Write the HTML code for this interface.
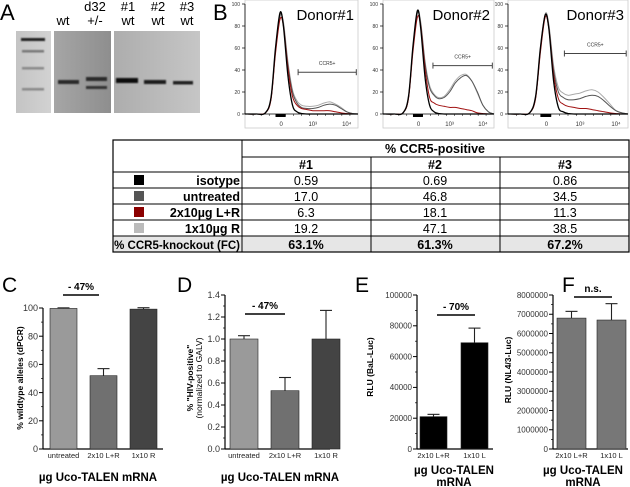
<!DOCTYPE html>
<html><head><meta charset="utf-8"><style>
html,body{margin:0;padding:0;background:#fff}
svg{display:block;font-family:"Liberation Sans",Arial,sans-serif}
</style></head><body>
<svg id="fig" width="630" height="487" viewBox="0 0 630 487" xmlns="http://www.w3.org/2000/svg">
<defs>
<filter id="bl" x="-20%" y="-100%" width="140%" height="300%"><feGaussianBlur stdDeviation="0.9"/></filter>
<linearGradient id="g1" x1="0" x2="1"><stop offset="0" stop-color="#c4c4c4"/><stop offset="1" stop-color="#d2d2d2"/></linearGradient>
<linearGradient id="g2" x1="0" x2="1"><stop offset="0" stop-color="#a6a6a6"/><stop offset="1" stop-color="#8e8e8e"/></linearGradient>
<linearGradient id="g3" x1="0" x2="1"><stop offset="0" stop-color="#adadad"/><stop offset="1" stop-color="#c6c6c6"/></linearGradient>
</defs>
<g>
<text x="0" y="20" font-size="22">A</text>
<g font-size="13" text-anchor="middle">
<text x="63" y="25">wt</text><text x="95" y="11">d32</text><text x="95" y="25">+/-</text>
<text x="128" y="11">#1</text><text x="128" y="25">wt</text>
<text x="158" y="11">#2</text><text x="158" y="25">wt</text>
<text x="187" y="11">#3</text><text x="187" y="25">wt</text>
</g>
<rect x="16" y="31" width="35" height="82" fill="url(#g1)"/>
<rect x="54" y="31" width="57" height="82" fill="url(#g2)"/>
<rect x="114" y="31" width="86" height="82" fill="url(#g3)"/>
<g filter="url(#bl)">
<rect x="21" y="38" width="24" height="3" fill="#222"/>
<rect x="22" y="50" width="22" height="2.5" fill="#777"/>
<rect x="22" y="67" width="22" height="2.5" fill="#888"/>
<rect x="22" y="88" width="22" height="2.5" fill="#888"/>
<rect x="58" y="80" width="21" height="4" fill="#2a2a2a"/>
<rect x="86" y="77" width="21" height="4" fill="#2a2a2a"/>
<rect x="86" y="86" width="21" height="3" fill="#333"/>
<rect x="116" y="78" width="22" height="5" fill="#111"/>
<rect x="144" y="80" width="22" height="4" fill="#1a1a1a"/>
<rect x="173" y="81" width="20" height="3.5" fill="#222"/>
</g>
</g>
<text x="213" y="20" font-size="22">B</text>
<g id="hist"></g>
<g font-size="12.5">
<rect x="113" y="236" width="516" height="16" fill="#e6e6e6"/>
<rect x="113" y="140" width="516" height="112" fill="none" stroke="#000" stroke-width="1.2"/>
<line x1="242" y1="140" x2="242" y2="252" stroke="#000"/>
<line x1="242" y1="157" x2="629" y2="157" stroke="#000"/>
<line x1="371" y1="157" x2="371" y2="252" stroke="#000"/>
<line x1="500" y1="157" x2="500" y2="252" stroke="#000"/>
<g stroke="#000"><line x1="113" y1="172" x2="629" y2="172"/><line x1="113" y1="188" x2="629" y2="188"/><line x1="113" y1="204" x2="629" y2="204"/><line x1="113" y1="220" x2="629" y2="220"/><line x1="113" y1="236" x2="629" y2="236"/></g>
<text x="435" y="153" text-anchor="middle" font-weight="bold">% CCR5-positive</text>
<g font-weight="bold" text-anchor="middle"><text x="306" y="169">#1</text><text x="435" y="169">#2</text><text x="565" y="169">#3</text></g>
<rect x="134" y="175" width="10" height="10" fill="#000"/>
<rect x="134" y="191" width="10" height="10" fill="#555"/>
<rect x="134" y="207" width="10" height="10" fill="#8b0000"/>
<rect x="134" y="223" width="10" height="10" fill="#bbb"/>
<g font-weight="bold" text-anchor="end"><text x="240" y="185">isotype</text><text x="240" y="201">untreated</text><text x="240" y="217">2x10µg L+R</text><text x="240" y="233">1x10µg R</text><text x="240" y="249" font-size="11.5">% CCR5-knockout (FC)</text></g>
<g text-anchor="middle">
<text x="306" y="185">0.59</text><text x="435" y="185">0.69</text><text x="565" y="185">0.86</text>
<text x="306" y="201">17.0</text><text x="435" y="201">46.8</text><text x="565" y="201">34.5</text>
<text x="306" y="217">6.3</text><text x="435" y="217">18.1</text><text x="565" y="217">11.3</text>
<text x="306" y="233">19.2</text><text x="435" y="233">47.1</text><text x="565" y="233">38.5</text>
<g font-weight="bold"><text x="306" y="249">63.1%</text><text x="435" y="249">61.3%</text><text x="565" y="249">67.2%</text></g>
</g>
</g>
<g id="bars"></g>
</svg>
<script>
const histX = [0,0.1,0.18,0.23,0.27,0.31,0.34,0.38,0.42,0.46,0.5,0.55,0.6,0.65,0.7,0.75,0.8,0.85,0.9,0.95,1];
const d1Iso = [0,0,1,15,60,92,80,35,8,2,0.5,0,0,0,0,0,0,0,0,0,0];
const d1Unt = [0,0,1,14,58,90,82,45,20,10,6,5,5,6,8,9,8,5,2,0.5,0];
const d1LR  = [0,0,1,13,55,86,80,42,16,8,5,4,3,3,3,3,2,1,0.5,0,0];
const d1R   = [0,0,1,14,57,88,84,48,22,12,8,7,7,8,10,11,9,6,2,0.5,0];
const d2Iso = [0,0,1,16,62,94,78,32,8,2,0.5,0,0,0,0,0,0,0,0,0,0];
const d2Unt = [0,0,1,15,60,92,82,45,24,17,14,15,20,28,33,35,30,20,8,2,0];
const d2LR  = [0,0,1,14,57,88,80,40,15,10,8,7,6,6,5,4,3,1,0.5,0,0];
const d2R   = [0,0,1,15,61,93,84,47,26,18,15,16,22,30,35,36,30,19,8,2,0];
const d3Iso = [0,0,1,16,60,90,78,30,6,2,0.5,0,0,0,0,0,0,0,0,0,0];
const d3Unt = [0,0,1,15,58,90,80,40,20,15,13,13,14,16,17,16,12,7,3,1,0];
const d3LR  = [0,0,1,14,56,88,78,36,14,9,7,6,5,5,4,3,2,1,0.5,0,0];
const d3R   = [0,0,1,15,60,91,82,44,24,19,17,18,19,21,22,20,15,9,3,1,0];
const donorNames = ["Donor#1","Donor#2","Donor#3"];
const donorSeries = [[d1Iso,d1Unt,d1LR,d1R],[d2Iso,d2Unt,d2LR,d2R],[d3Iso,d3Unt,d3LR,d3R]];
const gateY = [38,44,55];
const gateStart = [0.47,0.45,0.47];
const yTicksHist = [0,20,40,60,80,100];

const NS="http://www.w3.org/2000/svg";
function mk(tag,attrs,parent,txt){const e=document.createElementNS(NS,tag);for(const k in attrs)e.setAttribute(k,attrs[k]);if(txt!==undefined)e.textContent=txt;parent.appendChild(e);return e;}
function smooth(pts){let d="M"+pts[0][0]+","+pts[0][1];for(let i=0;i<pts.length-1;i++){const p0=pts[Math.max(0,i-1)],p1=pts[i],p2=pts[i+1],p3=pts[Math.min(pts.length-1,i+2)];const c1=[p1[0]+(p2[0]-p0[0])/6,p1[1]+(p2[1]-p0[1])/6],c2=[p2[0]-(p3[0]-p1[0])/6,p2[1]-(p3[1]-p1[1])/6];d+=`C${c1[0].toFixed(1)},${c1[1].toFixed(1)} ${c2[0].toFixed(1)},${c2[1].toFixed(1)} ${p2[0].toFixed(1)},${p2[1].toFixed(1)}`;}return d;}

const hist=document.getElementById('hist');
const panels=[{x0:245,w:113},{x0:383,w:111},{x0:508,w:120}];
const serColors=["#000","#555","#a01010","#aaa"];
const drawOrder=[3,1,2,0];
panels.forEach((p,di)=>{
  const g=mk('g',{},hist);
  
  
  const top=4,bot=114;
  const sx=v=>p.x0+v*p.w, sy=v=>bot-(v/100)*(bot-top);
  mk('rect',{x:p.x0,y:0,width:p.w,height:128,fill:'none',stroke:'#ccc','stroke-width':0.8},g);
  mk('line',{x1:p.x0,y1:top,x2:p.x0,y2:bot,stroke:'#000','stroke-width':0.8},g);
  mk('line',{x1:p.x0,y1:bot,x2:p.x0+p.w,y2:bot,stroke:'#000','stroke-width':0.8},g);
  yTicksHist.forEach(t=>{mk('line',{x1:p.x0-3,y1:sy(t),x2:p.x0,y2:sy(t),stroke:'#000','stroke-width':0.7},g);mk('text',{x:p.x0-5,y:sy(t)+2,'font-size':5,'text-anchor':'end',fill:'#333'},g,String(t));});
  for(let i=1;i<14;i++){mk('line',{x1:p.x0+i*p.w/14,y1:bot,x2:p.x0+i*p.w/14,y2:bot+2,stroke:'#000','stroke-width':0.5},g);}
  mk('rect',{x:sx(0.27),y:bot,width:sx(0.36)-sx(0.27),height:3,fill:'#000'},g);
  mk('text',{x:sx(0.32),y:bot+12,'font-size':6,'text-anchor':'middle',fill:'#333'},g,'0');
  mk('text',{x:sx(0.6),y:bot+12,'font-size':6,'text-anchor':'middle',fill:'#333'},g,'10³');
  mk('text',{x:sx(0.9),y:bot+12,'font-size':6,'text-anchor':'middle',fill:'#333'},g,'10⁴');
  drawOrder.forEach(si=>{
    const ys=donorSeries[di][si];
    const pts=histX.map((x,i)=>[sx(x),sy(ys[i])]);
    const pa=mk('path',{d:smooth(pts),fill:'none',stroke:serColors[si],'stroke-width':si===0?1.3:1},g);
    
    
  });
  const gy=sy(gateY[di]);
  mk('line',{x1:sx(gateStart[di]),y1:gy,x2:sx(0.985),y2:gy,stroke:'#444','stroke-width':1},g);
  mk('line',{x1:sx(gateStart[di]),y1:gy-3,x2:sx(gateStart[di]),y2:gy+3,stroke:'#444'},g);
  mk('line',{x1:sx(0.985),y1:gy-3,x2:sx(0.985),y2:gy+3,stroke:'#444'},g);
  mk('text',{x:(sx(gateStart[di])+sx(0.985))/2,y:gy-7,'font-size':5,'text-anchor':'middle',fill:'#333'},g,'CCR5+');
  const dn=mk('text',{x:p.x0+p.w-4,y:20,'font-size':15,'text-anchor':'end'},g,donorNames[di]);
  
  
});

const cCats=["untreated","2x10 L+R","1x10 R"];
const cVals=[99.7,52,99.2];
const cErr=[0.4,5,1];
const cTicks=[0,20,40,60,80,100];
const dCats=["untreated","2x10 L+R","1x10 R"];
const dVals=[1.0,0.53,1.0];
const dErr=[0.03,0.12,0.26];
const dTicks=[0,0.2,0.4,0.6,0.8,1.0,1.2,1.4];
const eCats=["2x10 L+R","1x10 L"];
const eVals=[21000,69000];
const eErr=[1500,9500];
const eTicks=[0,20000,40000,60000,80000,100000];
const fCats=["2x10 L+R","1x10 L"];
const fVals=[6800000,6700000];
const fErr=[350000,850000];
const fTicks=[0,1000000,2000000,3000000,4000000,5000000,6000000,7000000,8000000];

const bars=document.getElementById('bars');
function chart(o){
  const g=mk('g',{},bars);
  
  
  const sy=v=>o.y0-(v-o.min)/(o.max-o.min)*(o.y0-o.y1);
  mk('text',{x:o.lx,y:292,'font-size':21},g,o.letter);
  mk('line',{x1:o.ax,y1:sy(o.max),x2:o.ax,y2:o.y0,stroke:'#000','stroke-width':1.2},g);
  mk('line',{x1:o.ax,y1:o.y0,x2:o.axEnd,y2:o.y0,stroke:'#000','stroke-width':1.2},g);
  o.ticks.forEach((t,i)=>{
    mk('line',{x1:o.ax-4,y1:sy(t),x2:o.ax,y2:sy(t),stroke:'#000'},g);
    if(i<o.ticks.length-1) mk('line',{x1:o.ax-2,y1:(sy(t)+sy(o.ticks[i+1]))/2,x2:o.ax,y2:(sy(t)+sy(o.ticks[i+1]))/2,stroke:'#000','stroke-width':0.7},g);
    mk('text',{x:o.ax-5,y:sy(t)+o.tfs*0.35,'font-size':o.tfs,'text-anchor':'end',fill:'#333'},g,o.fmt(t));
  });
  o.vals.forEach((v,i)=>{
    const x=o.bx[i], w=o.bw, c=x+w/2;
    const r=mk('rect',{x:x,y:sy(v),width:w,height:o.y0-sy(v),fill:o.colors[i],stroke:'#222','stroke-width':0.6},g);
    
    
    const ey=sy(v+o.err[i]);
    mk('line',{x1:c,y1:sy(v),x2:c,y2:ey,stroke:'#222','stroke-width':1.1},g);
    mk('line',{x1:c-6,y1:ey,x2:c+6,y2:ey,stroke:'#222','stroke-width':1.1},g);
    mk('text',{x:c,y:o.y0+9,'font-size':7.5,'text-anchor':'middle',fill:'#222'},g,o.cats[i]);
  });
  mk('line',{x1:o.br[0],y1:o.br[2],x2:o.br[1],y2:o.br[2],stroke:'#000','stroke-width':1.4},g);
  mk('text',{x:(o.br[0]+o.br[1])/2,y:o.br[2]-5,'font-size':10,'font-weight':'bold','text-anchor':'middle'},g,o.brLabel);
  o.title.forEach((t,i)=>mk('text',{x:o.tx,y:o.ty+i*12,'font-size':11.5,'font-weight':'bold','text-anchor':'middle'},g,t));
  o.ytitle.forEach((t,i)=>mk('text',{x:0,y:0,'font-size':8.5,'font-weight':(i===0)?'bold':'normal','text-anchor':'middle',transform:`translate(${o.ytx+i*9},${o.yty}) rotate(-90)`},g,t));
}
chart({name:'chart-c',letter:'C',lx:2,ax:43,axEnd:163,y0:449,y1:308,min:0,max:100,ticks:cTicks,tfs:9,fmt:t=>String(t),
  vals:cVals,err:cErr,cats:cCats,bx:[50,90,130],bw:27,colors:['#9a9a9a','#707070','#444'],
  br:[63,99,295],brLabel:'- 47%',title:['µg Uco-TALEN mRNA'],tx:98,ty:481,ytitle:['% wildtype alleles (dPCR)'],ytx:23,yty:378});
chart({name:'chart-d',letter:'D',lx:177,ax:225,axEnd:330,y0:449,y1:295,min:0,max:1.4,ticks:dTicks,tfs:9,fmt:t=>t.toFixed(1),
  vals:dVals,err:dErr,cats:dCats,bx:[230,271,312],bw:28,colors:['#9a9a9a','#707070','#444'],
  br:[245,285,314],brLabel:'- 47%',title:['µg Uco-TALEN mRNA'],tx:280,ty:481,ytitle:['% "HIV-positive"','(normalized to GALV)'],ytx:193,yty:378});
chart({name:'chart-e',letter:'E',lx:355,ax:417,axEnd:493,y0:449,y1:295,min:0,max:100000,ticks:eTicks,tfs:8,fmt:t=>String(t),
  vals:eVals,err:eErr,cats:eCats,bx:[420,461],bw:27,colors:['#000','#000'],
  br:[437,475,315],brLabel:'- 70%',title:['µg Uco-TALEN','mRNA'],tx:454,ty:474,ytitle:['RLU (BaL-Luc)'],ytx:373,yty:367});
chart({name:'chart-f',letter:'F',lx:562,ax:553,axEnd:628,y0:449,y1:295,min:0,max:8000000,ticks:fTicks,tfs:8,fmt:t=>String(t),
  vals:fVals,err:fErr,cats:fCats,bx:[557,597],bw:29,colors:['#777','#777'],
  br:[574,612,297],brLabel:'n.s.',title:['µg Uco-TALEN','mRNA'],tx:583,ty:474,ytitle:['RLU (NL4/3-Luc)'],ytx:511,yty:370});
</script>
</body></html>
